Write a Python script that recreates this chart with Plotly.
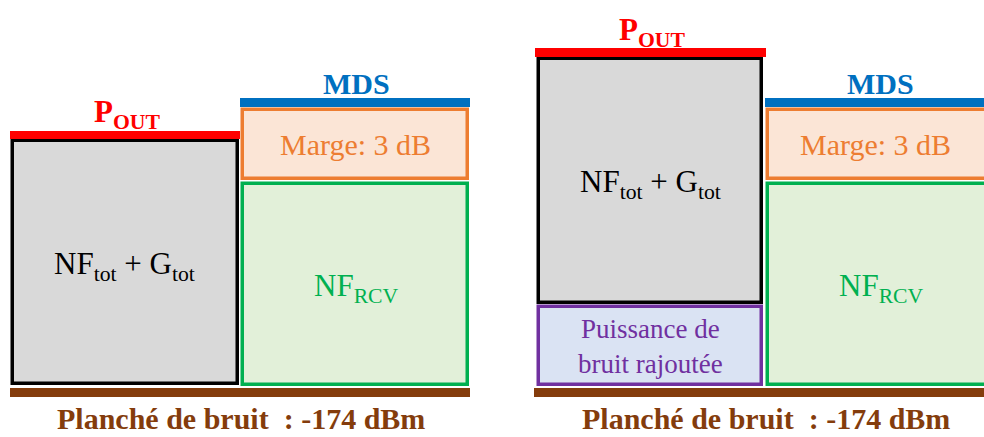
import plotly.graph_objects as go

# ---- data (levels, arbitrary dB-like units above the noise floor) ----
panels = ["gauche", "droite"]
floor_label = "Planché de bruit  : -174 dBm"
pout_label = "P<sub>OUT</sub>"
mds_label = "MDS"

# left panel
left_tx_bottom = [4.5]
left_tx_top = [247.5]
# right panel
right_added_bottom = [3]
right_added_top = [81.5]
right_tx_bottom = [85]
right_tx_top = [329.5]
# receiver column (same in both panels)
rcv_nf_bottom = [3]
rcv_nf_top = [204.5]
margin_bottom = [209]
margin_top = [278.5]
mds_level = [281, 290]
pout_left = [249, 257]
pout_right = [331, 340]
floor_level = [-9, 0]

labels_tx = "NF<sub>tot</sub> + G<sub>tot</sub>"
labels_rcv = "NF<sub>RCV</sub>"
labels_margin = "Marge: 3 dB"
labels_added = "Puissance de<br>bruit rajoutée"

# ---- layout constants ----
SERIF = "Liberation Serif, Times New Roman, DejaVu Serif, serif"
RED = "#FF0000"; BLUE = "#0070C0"; ORANGE = "#ED7D31"; ORANGE_F = "#FBE5D6"
GREEN = "#00B050"; GREEN_F = "#E2F0D9"; GRAY_F = "#D9D9D9"; PURPLE = "#7030A0"
PURPLE_F = "#DAE3F3"; BROWN = "#843C0C"

fig = go.Figure()

def block(x0, x1, y0, y1, fill, line=None, lw=0):
    fig.add_trace(go.Bar(
        x=[(x0 + x1) / 2], y=[y1 - y0], base=[y0], width=[x1 - x0],
        marker=dict(color=fill, line=dict(color=line or fill, width=lw)),
        hoverinfo="skip", showlegend=False))

# left panel
block(12.5, 237.5, left_tx_bottom[0], left_tx_top[0], GRAY_F, "black", 3.5)
block(242.5, 467.5, rcv_nf_bottom[0], rcv_nf_top[0], GREEN_F, GREEN, 3.5)
block(242.5, 467.5, margin_bottom[0], margin_top[0], ORANGE_F, ORANGE, 3.5)
block(240, 470, mds_level[0], mds_level[1], BLUE)
block(10, 240, pout_left[0], pout_left[1], RED)
block(10, 470, floor_level[0], floor_level[1], BROWN)

# right panel
block(538.5, 761.5, right_added_bottom[0], right_added_top[0], PURPLE_F, PURPLE, 3.5)
block(538.5, 761.5, right_tx_bottom[0], right_tx_top[0], GRAY_F, "black", 3.5)
block(767.5, 995, rcv_nf_bottom[0], rcv_nf_top[0], GREEN_F, GREEN, 3.5)
block(767.5, 995, margin_bottom[0], margin_top[0], ORANGE_F, ORANGE, 3.5)
block(765, 995, mds_level[0], mds_level[1], BLUE)
block(535, 766, pout_right[0], pout_right[1], RED)
block(534, 995, floor_level[0], floor_level[1], BROWN)

def label(x, y, text, color, size, bold=False):
    fig.add_annotation(x=x, y=y, xref="x", yref="y", showarrow=False,
                       text=f"<b>{text}</b>" if bold else text,
                       font=dict(family=SERIF, size=size, color=color),
                       xanchor="center", yanchor="middle")

# left texts
label(124, left_tx_bottom[0] + 118, labels_tx, "black", 31)
label(355, (margin_bottom[0] + margin_top[0]) / 2, labels_margin, ORANGE, 30)
label(356, 100, labels_rcv, GREEN, 31)
label(127, 274, pout_label, RED, 31, bold=True)
label(356, 305, mds_label, BLUE, 30, bold=True)
label(241, -30, floor_label, BROWN, 30, bold=True)

# right texts
label(650, 204, labels_tx, "black", 31)
label(650, 42, labels_added, PURPLE, 27)
label(875, (margin_bottom[0] + margin_top[0]) / 2, labels_margin, ORANGE, 30)
label(881, 100, labels_rcv, GREEN, 31)
label(652, 356, pout_label, RED, 31, bold=True)
label(880, 305, mds_label, BLUE, 30, bold=True)
label(766, -30, floor_label, BROWN, 30, bold=True)

fig.update_layout(
    width=984, height=437, margin=dict(l=0, r=0, t=0, b=0),
    paper_bgcolor="white", plot_bgcolor="white", barmode="overlay",
    xaxis=dict(range=[0, 984], visible=False, fixedrange=True),
    yaxis=dict(range=[-49, 388], visible=False, fixedrange=True),
    bargap=0,
)
fig.write_html("out.html", config={"displayModeBar": False},
               post_script="document.body.style.margin='0';document.body.style.overflow='hidden';")
